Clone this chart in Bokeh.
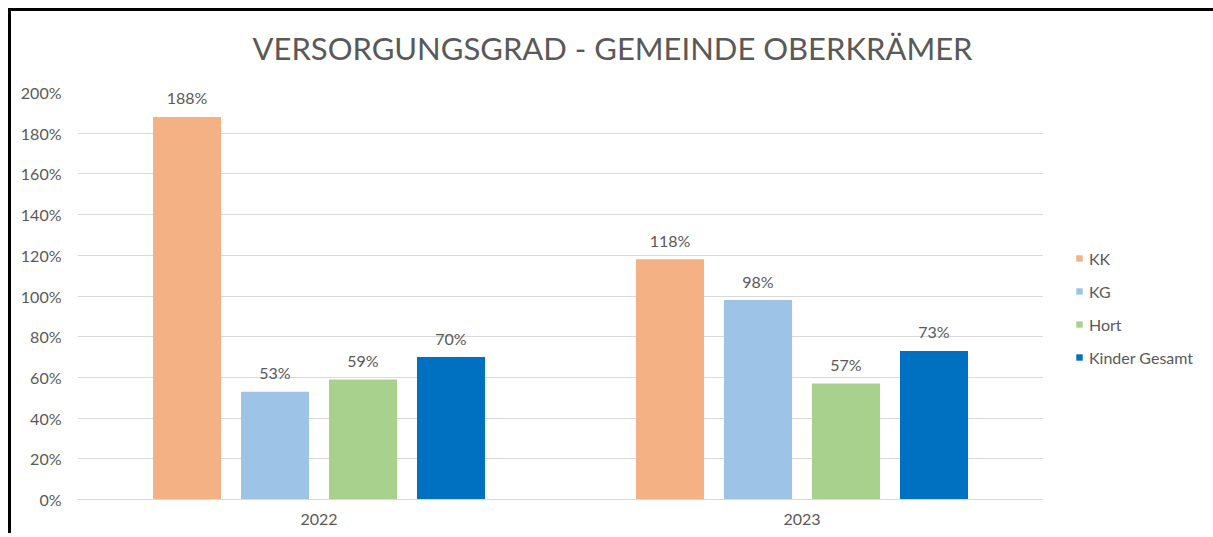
from bokeh.plotting import figure
from bokeh.layouts import row, column
from bokeh.models import (ColumnDataSource, FactorRange, Range1d, Legend, LegendItem,
                          FixedTicker, NumeralTickFormatter)
from bokeh.transform import dodge
from bokeh.core.properties import value
from bokeh.embed import file_html
from bokeh.resources import INLINE

title_text = "VERSORGUNGSGRAD - GEMEINDE OBERKRÄMER"
years = ["2022", "2023"]
series = ["KK", "KG", "Hort", "Kinder Gesamt"]
kk = [1.88, 1.18]
kg = [0.53, 0.98]
hort = [0.59, 0.57]
gesamt = [0.70, 0.73]
colors = ["#F4B183", "#9DC3E6", "#A9D18E", "#0070C0"]
y_ticks = [0, 0.2, 0.4, 0.6, 0.8, 1.0, 1.2, 1.4, 1.6, 1.8, 2.0]

FONT = "Lato"
TXT = "#595959"
W = 1202
TH = 71
H = 451


def bare(fig):
    fig.outline_line_color = None
    fig.xgrid.grid_line_color = None
    fig.ygrid.grid_line_color = None
    return fig


# title strip (pixel-like coordinate system)
tf = bare(figure(width=W, height=TH, x_range=Range1d(0, W), y_range=Range1d(0, TH),
                 output_backend="svg", toolbar_location=None,
                 x_axis_type=None, y_axis_type=None,
                 min_border_left=0, min_border_right=0, min_border_top=0, min_border_bottom=0))
tf.text(x=[W / 2], y=[TH - 36], text=[title_text], text_align="center",
        text_baseline="alphabetic", text_font=value(FONT), text_font_size="31px",
        text_color=TXT)

# main chart
p = figure(width=1032, height=H, x_range=FactorRange(*years), y_range=Range1d(0, 2.0),
           output_backend="svg", toolbar_location=None,
           min_border_left=66, min_border_right=0, min_border_top=10, min_border_bottom=34)
p.outline_line_color = None

src = ColumnDataSource(dict(year=years, kk=kk, kg=kg, hort=hort, gesamt=gesamt))
cols = ["kk", "kg", "hort", "gesamt"]
step = 0.1822
bw = 0.1408
for i, (col, color) in enumerate(zip(cols, colors)):
    off = (i - 1.5) * step
    p.vbar(x=dodge("year", off, range=p.x_range), top=col, width=bw, source=src,
           fill_color=color, line_color=None)
    lab = ColumnDataSource(dict(year=years, y=src.data[col],
                                t=[f"{round(v * 100):d}%" for v in src.data[col]]))
    p.text(x=dodge("year", off, range=p.x_range), y="y", text="t", source=lab,
           text_align="center", text_baseline="alphabetic", y_offset=-19,
           text_font=value(FONT), text_font_size="16px", text_color=TXT)

p.xgrid.grid_line_color = None
p.ygrid.grid_line_color = "#D9D9D9"
p.ygrid.ticker = FixedTicker(ticks=y_ticks)

p.yaxis.ticker = FixedTicker(ticks=y_ticks)
p.yaxis.formatter = NumeralTickFormatter(format="0%")
p.yaxis.axis_line_color = None
p.yaxis.major_tick_line_color = None
p.yaxis.minor_tick_line_color = None
p.yaxis.major_tick_out = 0
p.yaxis.major_label_standoff = 16
p.yaxis.major_label_text_font = FONT
p.yaxis.major_label_text_font_size = "16px"
p.yaxis.major_label_text_color = TXT

p.xaxis.axis_line_color = "#D9D9D9"
p.xaxis.major_tick_line_color = None
p.xaxis.minor_tick_line_color = None
p.xaxis.major_tick_out = 0
p.xaxis.major_label_standoff = 14
p.xaxis.major_label_text_font = FONT
p.xaxis.major_label_text_font_size = "16px"
p.xaxis.major_label_text_color = TXT
p.x_range.range_padding = 0

# legend panel to the right of the chart
lg = bare(figure(width=W - 1032, height=H, x_range=Range1d(0, 1), y_range=Range1d(0, 1),
                 output_backend="svg", toolbar_location=None,
                 x_axis_type=None, y_axis_type=None,
                 min_border_left=0, min_border_right=0, min_border_top=0, min_border_bottom=0))
items = []
for name, color in zip(series, colors):
    # single off-screen swatch renderer, only used for the legend glyph
    r = lg.vbar(x=[-1], top=[0], width=0.1, fill_color=color, line_color=None)
    items.append(LegendItem(label=name, renderers=[r]))
legend = Legend(items=items, location=(32, 132), orientation="vertical")
legend.margin = 0
legend.padding = 0
legend.border_line_color = None
legend.background_fill_alpha = 0
legend.glyph_width = 8
legend.glyph_height = 8
legend.label_standoff = 6
legend.label_height = 20
legend.spacing = 13
legend.label_text_font = FONT
legend.label_text_font_size = "16px"
legend.label_text_color = TXT
lg.add_layout(legend)

layout = column(tf, row(p, lg, spacing=0), spacing=0)
layout.styles = {"border-top": "3px solid black", "border-left": "3px solid black",
                 "position": "relative", "top": "8px", "left": "8px",
                 "vertical-align": "top"}

open("out.html", "w").write(file_html(layout, INLINE))
